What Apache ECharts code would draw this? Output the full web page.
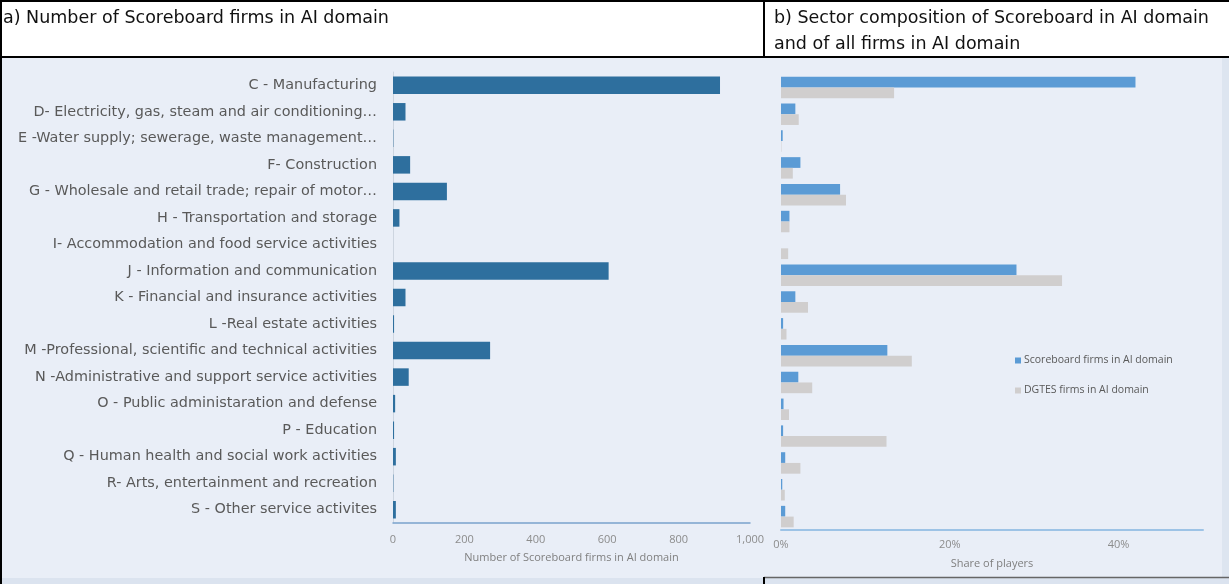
<!DOCTYPE html>
<html>
<head>
<meta charset="utf-8">
<script src="https://cdn.jsdelivr.net/npm/echarts@6/dist/echarts.min.js"></script>
<style>
  html, body { margin: 0; padding: 0; background: #e9eef7; }
  #chart { width: 1229px; height: 584px; }
</style>
</head>
<body>
<div id="chart"></div>
<script>
// NACE sectors, top to bottom
const categories = [
  'C - Manufacturing',
  'D- Electricity, gas, steam and air conditioning…',
  'E -Water supply; sewerage, waste management…',
  'F- Construction',
  'G - Wholesale and retail trade; repair of motor…',
  'H - Transportation and storage',
  'I- Accommodation and food service activities',
  'J - Information and communication',
  'K - Financial and insurance activities',
  'L -Real estate activities',
  'M -Professional, scientific and technical activities',
  'N -Administrative and support service activities',
  'O - Public administaration and defense',
  'P - Education',
  'Q - Human health and social work activities',
  'R- Arts, entertainment and recreation',
  'S - Other service activites'
];

// a) number of Scoreboard firms in the AI domain per sector
const firmCounts = [916, 35, 1, 48, 151, 18, 0, 604, 35, 3, 272, 44, 6, 3, 8, 1, 8];

// b) share of players per sector (%)
const scoreboardShare = [42.0, 1.7, 0.2, 2.3, 7.0, 1.0, 0, 27.9, 1.7, 0.25, 12.6, 2.05, 0.3, 0.25, 0.5, 0.15, 0.5];
const dgtesShare      = [13.4, 2.1, 0.05, 1.4, 7.7, 1.0, 0.85, 33.3, 3.2, 0.65, 15.5, 3.7, 0.95, 12.5, 2.3, 0.45, 1.5];

const seriesNames = ['Scoreboard firms in AI domain', 'DGTES firms in AI domain'];
const leftTitle = 'a) Number of Scoreboard firms in AI domain';
const rightTitle = 'b) Sector composition of Scoreboard in AI domain\nand of all firms in AI domain';

const FONT = 'Open Sans';
const WIDE = 'DejaVu Sans';
const chart = echarts.init(document.getElementById('chart'), null, { renderer: 'canvas' });

const option = {
  backgroundColor: '#e9eef7',
  animation: false,
  textStyle: { fontFamily: FONT },
  graphic: [
    // header band
    { type: 'rect', z: 0, shape: { x: 0, y: 0, width: 1229, height: 57 }, style: { fill: '#ffffff' } },
    { type: 'line', z: 5, shape: { x1: 0, y1: 1, x2: 1229, y2: 1 }, style: { stroke: '#000', lineWidth: 2 } },
    { type: 'line', z: 5, shape: { x1: 0, y1: 57, x2: 1229, y2: 57 }, style: { stroke: '#000', lineWidth: 2 } },
    { type: 'line', z: 5, shape: { x1: 764, y1: 0, x2: 764, y2: 57 }, style: { stroke: '#000', lineWidth: 2 } },
    { type: 'line', z: 5, shape: { x1: 1, y1: 0, x2: 1, y2: 584 }, style: { stroke: '#000', lineWidth: 2 } },
    // right edge strip and bottom band
    { type: 'rect', z: 0, shape: { x: 1222, y: 58, width: 7, height: 520 }, style: { fill: '#dde5f0' } },
    { type: 'rect', z: 0, shape: { x: 0, y: 578, width: 1229, height: 6 }, style: { fill: '#dbe3ef' } },
    { type: 'line', z: 5, shape: { x1: 764, y1: 577.5, x2: 1229, y2: 577.5 }, style: { stroke: '#666', lineWidth: 1.5 } },
    { type: 'line', z: 5, shape: { x1: 764, y1: 577, x2: 764, y2: 584 }, style: { stroke: '#000', lineWidth: 2 } },
    // panel titles
    { type: 'text', z: 6, left: 3, top: 9, style: { text: leftTitle, fontFamily: WIDE, fontSize: 17.5, fill: '#111' } },
    { type: 'text', z: 6, left: 774, top: 5, style: { text: rightTitle, fontFamily: WIDE, fontSize: 17.5, lineHeight: 26, fill: '#111' } }
  ],
  legend: {
    data: seriesNames,
    orient: 'vertical',
    left: 1010,
    top: 350,
    itemWidth: 6,
    itemHeight: 6,
    itemGap: 19,
    icon: 'rect',
    textStyle: { fontFamily: FONT, fontSize: 10.5, color: '#595959', padding: [0, 0, 0, -2] }
  },
  grid: [
    { left: 393, right: 479, top: 72, bottom: 61, containLabel: false },
    { left: 781, right: 26, top: 74, bottom: 54, containLabel: false }
  ],
  xAxis: [
    {
      gridIndex: 0, type: 'value', min: 0, max: 1000, interval: 200,
      name: 'Number of Scoreboard firms in AI domain', nameLocation: 'middle', nameGap: 29,
      nameTextStyle: { fontFamily: FONT, fontSize: 11, color: '#7f7f7f' },
      axisLine: { show: true, lineStyle: { color: '#7aa3cd', width: 1.5 } },
      axisTick: { show: false },
      splitLine: { show: false },
      axisLabel: {
        margin: 11, fontFamily: FONT, fontSize: 11, color: '#8c8c8c',
        formatter: v => v.toLocaleString('en-US')
      }
    },
    {
      gridIndex: 1, type: 'value', min: 0, max: 50, interval: 20,
      name: 'Share of players', nameLocation: 'middle', nameGap: 28,
      nameTextStyle: { fontFamily: FONT, fontSize: 11, color: '#7f7f7f' },
      axisLine: { show: true, lineStyle: { color: '#9dc3e6', width: 2 } },
      axisTick: { show: false },
      splitLine: { show: false },
      axisLabel: {
        margin: 9, fontFamily: FONT, fontSize: 11, color: '#8c8c8c',
        showMaxLabel: false, formatter: '{value}%'
      }
    }
  ],
  yAxis: [
    {
      gridIndex: 0, type: 'category', data: categories, inverse: true,
      axisLine: { show: true, lineStyle: { color: '#cdd5e0', width: 1 } },
      axisTick: { show: false },
      axisLabel: { margin: 16, fontFamily: WIDE, fontSize: 14.4, color: '#595959' }
    },
    {
      gridIndex: 1, type: 'category', data: categories, inverse: true,
      axisLine: { show: false }, axisTick: { show: false }, axisLabel: { show: false }
    }
  ],
  series: [
    {
      type: 'bar', xAxisIndex: 0, yAxisIndex: 0, data: firmCounts,
      barCategoryGap: '34%',
      itemStyle: { color: '#2e6f9e' }
    },
    {
      name: seriesNames[0], type: 'bar', xAxisIndex: 1, yAxisIndex: 1, data: scoreboardShare,
      barGap: '0%', barCategoryGap: '20%',
      itemStyle: { color: '#5b9bd5' }
    },
    {
      name: seriesNames[1], type: 'bar', xAxisIndex: 1, yAxisIndex: 1, data: dgtesShare,
      barGap: '0%', barCategoryGap: '20%',
      itemStyle: { color: '#d0cece' }
    }
  ]
};

chart.setOption(option);
</script>
</body>
</html>
